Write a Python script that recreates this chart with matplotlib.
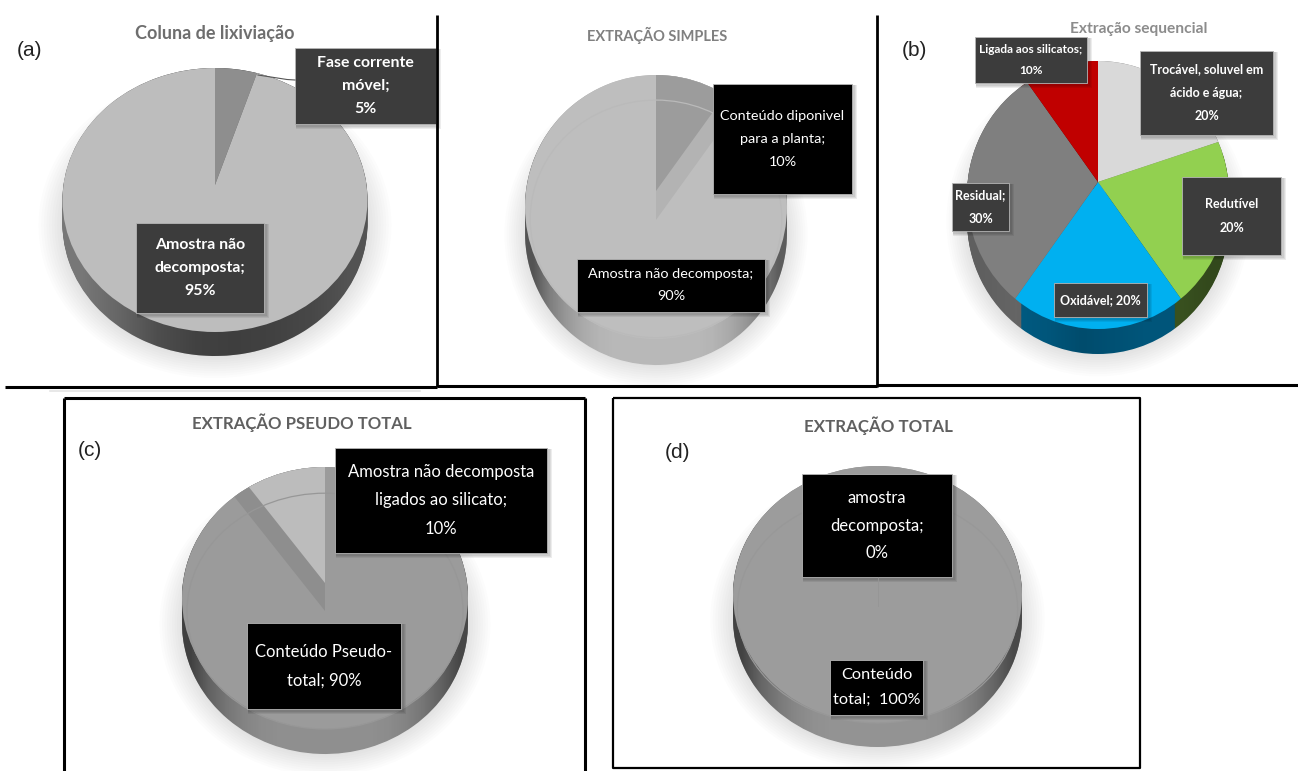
import matplotlib
matplotlib.use('Agg')
import matplotlib.pyplot as plt
from matplotlib.patches import Ellipse, Rectangle
from matplotlib.path import Path
import numpy as np

W, H = 1298, 771

# slice values for each pie, clockwise from 12 o'clock
vals_a = [5, 95]
vals_s = [10, 90]
vals_b = [20, 20, 20, 30, 10]
vals_c = [90, 10]
vals_d = [100, 0]

# label text
labels_a = ['Fase corrente\nmóvel;\n5%', 'Amostra não\ndecomposta;\n95%']
labels_s = ['Conteúdo diponivel\npara a planta;\n10%', 'Amostra não decomposta;\n90%']
labels_b = ['Trocável, soluvel em\nácido e água;\n20%', 'Redutível\n20%', 'Oxidável; 20%',
            'Residual;\n30%', 'Ligada aos silicatos;\n10%']
labels_c = ['Conteúdo Pseudo-\ntotal; 90%', 'Amostra não decomposta\nligados ao silicato;\n10%']
labels_d = ['Conteúdo\ntotal;  100%', 'amostra\ndecomposta;\n0%']

titles = ['Coluna de lixiviação', 'EXTRAÇÃO SIMPLES', 'Extração sequencial',
          'EXTRAÇÃO PSEUDO TOTAL', 'EXTRAÇÃO TOTAL']

# darkening across the side wall, left to right
edge_shade = [0.55, 0.32, 0.18, 0.08, 0.02, 0, 0, 0, 0, 0, 0, 0.02, 0.08, 0.18, 0.32, 0.5]

fig = plt.figure(figsize=(W / 100, H / 100), dpi=100, facecolor='white')


def pie3d(cx, cy, rx, ry, depth, tip, values, top, side, grad, wall=None, wall_h=0, raised=None, rim=None):
    # one axes per pie, stretched so the circle comes out as a flat ellipse
    mx, my = 1.45, 1.5
    ax = fig.add_axes([(cx - mx * rx) / W, 1 - (cy + my * ry) / H, 2 * mx * rx / W, 2 * my * ry / H])
    ax.patch.set_alpha(0)
    d = depth / ry
    t = tip / ry
    kw = dict(startangle=90, counterclock=False, normalize=True)

    # soft shadow under the disc
    for k in range(10):
        ax.add_patch(Ellipse((0, -d - 0.01), 2 + 0.035 * k, 2 + 0.035 * k, color='black', alpha=0.012, lw=0))

    # side wall: the same pie stacked downwards
    for z in np.linspace(d, 0, 30):
        ax.pie(values, colors=side, center=(0, -z), radius=1, **kw)

    # shading across the side wall
    th = np.linspace(0, np.pi, 80)
    hull = np.r_[np.c_[np.cos(th), np.sin(th)], np.c_[np.cos(th + np.pi), np.sin(th + np.pi) - d]]
    img = np.zeros((1, len(grad), 4))
    img[0, :, 3] = grad
    im = ax.imshow(img, extent=(-1, 1, -1 - d, 1), aspect='auto', interpolation='bilinear', zorder=3)
    im.set_clip_path(Path(np.r_[hull, hull[:1]]), ax.transData)

    # top face, clipped to the unit circle (pie wedges come with clipping off)
    wedges, _ = ax.pie(values, colors=top, center=(0, t), radius=1.4, **kw)
    parts = list(wedges)
    if wall is not None:
        w2, _ = ax.pie(values, colors=wall, center=(0, t - wall_h / ry), radius=1.4, **kw)
        parts += list(w2)
    if raised is not None:
        w3, _ = ax.pie(values, colors=raised, center=(0, t), radius=1.4, **kw)
        parts += list(w3)
    for n, p in enumerate(parts):
        p.set_clip_on(True)
        p.set_clip_path(Path.unit_circle(), ax.transData)
        p.set_zorder(4 + n * 0.01)
        p.set_linewidth(0)

    # faint inner ring on the disc
    if rim is not None:
        ax.add_patch(Ellipse((0, rim[1]), 2 * rim[0], 2 * rim[2], fc='none', ec=rim[3], lw=0.9, zorder=5))

    ax.set_aspect('auto')
    ax.set_xlim(-mx, mx)
    ax.set_ylim(-my, my)
    ax.set_xticks([])
    ax.set_yticks([])
    ax.set_frame_on(False)
    return ax


pie3d(215, 200, 152.5, 132, 24, 15, vals_a, ['#8e8e8e', '#bdbdbd'], ['#777777', '#777777'],
      [0.0, 0.15, 0.35, 0.45, 0.48, 0.45, 0.4, 0.3])
pie3d(656, 207, 131, 132, 26, 16, vals_s, ['#bdbdbd', '#bebebe'], ['#b8b8b8', '#b8b8b8'], edge_shade,
      wall=['#b3b3b3', 'none'], wall_h=29, raised=['#9c9c9c', 'none'], rim=(0.96, -0.09, 0.9, '#bababa'))
pie3d(1098, 195, 131, 134, 25, 13, vals_b, ['#d9d9d9', '#92d050', '#00b0f0', '#7f7f7f', '#c00000'],
      ['#8f8f8f', '#3f5a23', '#005f88', '#6a6a6a', '#6a0000'],
      [0.1, 0.05, 0.1, 0.2, 0.15, 0.1, 0.1, 0.2])
pie3d(325, 598, 143, 131, 25, 15, vals_c, ['#9b9b9b', '#9b9b9b'], ['#8f8f8f', '#8f8f8f'], edge_shade,
      wall=['none', '#8e8e8e'], wall_h=28, raised=['none', '#bcbcbc'], rim=(0.965, -0.1, 0.9, '#979797'))
pie3d(877.5, 594.5, 144.5, 128.5, 24, 0, vals_d, ['#9c9c9c', '#9c9c9c'], ['#939393', '#939393'], edge_shade,
      rim=(0.97, -0.113, 0.887, '#989898'))

# overlay in pixel units for frames, titles and data labels
ov = fig.add_axes([0, 0, 1, 1], zorder=10)
ov.set_xlim(0, W)
ov.set_ylim(H, 0)
ov.axis('off')
ov.patch.set_alpha(0)

# panel frames
for xs, ys, lw in [([437, 437], [15, 387], 2), ([5, 437], [387, 387], 2.2),
                   ([877, 877], [15, 387], 2), ([437, 877], [386, 386], 2.2), ([877, 1298], [385, 385], 2.2),
                   ([64, 64], [771, 398], 2.2), ([64, 585], [398, 398], 2.2), ([585, 585], [398, 771], 2.2),
                   ([613, 1140, 1140, 613, 613], [398, 398, 768, 768, 398], 1.6)]:
    ov.plot(xs, ys, color='black', lw=lw, solid_capstyle='butt')
ov.plot([50, 420], [390.5, 390.5], color='#e4e4e4', lw=1.2)

# leader line of the small slice in panel (a), seam of the empty slice in (d)
ov.plot([258, 287, 295], [75, 79.5, 80], color='#555555', lw=0.8)
ov.plot([877.5, 877.5], [577, 606], color='#959595', lw=0.6)


def label(x0, x1, y0, y1, text, fc, size, weight='normal', ls=1.2):
    # dark label box with a faint drop shadow
    for k in (4, 3, 2):
        ov.add_patch(Rectangle((x0 + 1, y0 + 1), x1 - x0 + k, y1 - y0 + k, fc='black', ec='none', alpha=0.07))
    ov.add_patch(Rectangle((x0, y0), x1 - x0, y1 - y0, fc=fc, ec='#b5b5b5', lw=0.6))
    ov.text((x0 + x1) / 2, (y0 + y1) / 2, text, color='white', ha='center', va='center', fontsize=size,
            fontweight=weight, family='Lato', linespacing=ls)


DARK = '#3c3c3c'
label(295, 436, 48, 124, labels_a[0], DARK, 11.4, 'bold', 1.85)
label(136, 264, 223, 313, labels_a[1], DARK, 11.4, 'bold', 1.85)
label(713, 852, 84, 194, labels_s[0], 'black', 10.4, 'normal', 2.05)
label(577, 765, 259, 312, labels_s[1], 'black', 10.4, 'normal', 2.0)
label(1140, 1273, 51, 135, labels_b[0], DARK, 9, 'bold', 2.15)
label(1182, 1281, 177, 255, labels_b[1], DARK, 9, 'bold', 2.15)
label(1054, 1147, 283, 317, labels_b[2], DARK, 9, 'bold')
label(952, 1009, 183, 231, labels_b[3], DARK, 9, 'bold', 2.15)
label(975, 1087, 37, 83, labels_b[4], DARK, 8.6, 'bold', 2.1)
label(247, 401, 623, 709, labels_c[0], 'black', 12, 'normal', 1.95)
label(335, 547, 448, 553, labels_c[1], 'black', 12, 'normal', 1.95)
label(830, 923, 660, 715, labels_d[0], 'black', 11.8, 'normal', 1.95)
label(802, 952, 474, 577, labels_d[1], 'black', 12, 'normal', 1.87)

# panel titles
for x, y, s, c, fs in [(215, 33, titles[0], '#6e6e6e', 13), (657, 35, titles[1], '#808080', 10.5),
                       (1139, 29, titles[2], '#8c8c8c', 11.2), (302, 423, titles[3], '#606060', 12.1),
                       (878, 426, titles[4], '#606060', 12.2)]:
    ov.text(x, y, s, color=c, ha='center', va='center', fontsize=fs, fontweight='bold', family='Lato')

# panel letters
for x, y, s in [(30, 50, '(a)'), (914, 51, '(b)'), (90, 451, '(c)'), (678, 453, '(d)')]:
    ov.text(x, y, s, color='#222222', ha='center', va='center', fontsize=15, family='Liberation Sans')

fig.savefig('out.png', dpi=100)
